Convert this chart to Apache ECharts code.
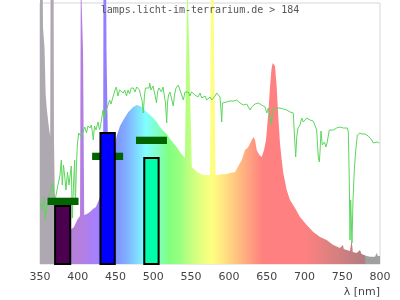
<!DOCTYPE html>
<html>
<head>
<meta charset="utf-8">
<style>html,body{margin:0;padding:0;background:#fff}#c{width:400px;height:300px}</style>
<script src="https://cdn.jsdelivr.net/npm/echarts@6/dist/echarts.min.js"></script>
</head>
<body>
<div id="c"></div>
<script>
// Lamp spectrum (nm, relative intensity)
const lampWavelength = [350,353.5,354,355.5,356,357,357.5,359,360.5,362,363.5,364,368,368.5,369.5,372,380,386,390,392,395,398,400,403,404,406.5,407,408,408.5,412,416,420,424,428,430,433.5,434,437.5,438,440,440.5,445,451.5,455.9,460.3,466.9,473.5,478,482.4,486.3,491.2,495.6,500,504.5,508.8,513.2,517.6,522,526.4,530.9,535.3,541.9,544.5,545,547.5,548,549.9,550.9,553.8,557.4,561.8,566.2,575,576.3,579.8,580.3,581.4,582.3,588.2,597.1,601.5,608.1,612.5,617,621.3,625.7,630.2,632.4,634.6,636.8,640.3,643.4,646.5,649.1,652.2,654.4,656.4,658,661,663.3,665.4,667.6,669.9,672,676.5,680.9,687.5,694.1,703,711.7,720.6,729.4,738.2,747,751,752,755.9,760.3,762.5,764,769.2,773.5,775.5,778,782.4,786.8,793.4,795.6,797.3,800];
const lampIntensity  = [280,280,236,236,216,216,170,155,145,135,128,280,280,125,70,50,40,36,34,35,37,42,45,48,290,290,212,212,49,50,52,55,57,64,68,75,290,290,214,214,90,105,128,138,144,152,157,159,158,156,152,149,146,142,137,133,130,125,121,117,112,106,104,290,290,197,197,97,95,92,90.5,89,89,290,290,215,215,89,89.5,90,91,92,98,104,114,117,124,127,124,114,109,107,114,124,151,177,195,201,198,177,147,121,104,91,74,64,56,47,39,32,27,24,19,16,19,15,14,13,24,12,11,14,10,9,8,7.3,7.3,11,8,8];

// Reference daylight spectrum (nm, relative intensity)
const sunWavelength = [350.9,352.6,354.9,357,359.3,362.8,365,367.2,369.5,371.2,373.8,376.5,378.2,379.5,381.1,382.7,384.4,386.4,388.4,391.4,392.8,394.3,395.9,396.7,398.3,399.4,401.2,402.9,404.7,406.9,409.2,411.5,413.5,416.2,417.9,419.5,420.5,422.1,424.1,426.8,428.8,430.1,431.1,433.4,434.7,436.7,438.7,440,442.2,444,446.6,448.9,451,453.2,455.2,457.6,460.2,462.1,464.5,466.5,468.5,470.8,473.5,475.7,478,479.7,481.7,483,485,486.7,488.3,489.6,491.6,494.3,495.2,496.9,499.6,502.2,504.2,505.5,507.5,508.8,510.8,512.8,515,516.1,517.7,518.7,520.1,522.1,524.3,526.4,528,530,530.9,533,535.3,537.9,539.7,540.6,541.9,543.9,546.3,548.5,550.5,552.9,555.1,557.4,559.1,561.8,564,566.1,568.4,570.6,572.8,575,577.3,579.4,581.6,583.9,586,588.2,589.6,590.5,591.5,593.5,597.1,599.2,601.5,604.1,606.8,610.3,612.5,614.7,617,619.1,621.3,623.6,625.7,627.9,630.2,632.3,634.6,638.9,643.4,647.8,650.1,652.2,654.4,656.4,657.7,659.7,663.3,665.4,667.6,672,676.5,680.9,685.3,686.8,688.4,689.8,691.5,694.1,696.4,698.5,700.7,703,705.1,707.4,711.7,714,716.2,717.3,718.3,719.7,720.6,721.9,723.6,725,726.5,728.5,729.9,731.6,732.9,735.1,738.2,742.7,747.1,751.4,756.7,758.1,759.4,760.3,761.2,762,762.9,764.3,766,767.6,770,773.5,776.2,780.1,784.5,786.8,789,791.1,793.4,796,799.1];
const sunIntensity  = [61,54,67,44,59,71,74,81,61,69,79,89,104,79,99,88,74,92,79,98,46,79,104,59,99,119,131,133,127,132,137,131,138,136,139,131,124,138,134,142,134,138,143,154,146,152,156,158,164,160,167,173,177,168,174,172,171,174,168,174,170,176,176,172,177,179,174,169,164,151,169,176,178,176,181,174,178,169,161,172,176,174,172,177,179,161,141,161,169,172,174,158,169,176,177,179,174,172,164,166,172,174,172,168,172,171,169,169,167,171,166,166,168,164,166,167,164,164,168,171,169,167,154,142,161,162,162,160,163,161,163,164,162,161,162,159,160,160,159,154,157,158,160,161,159,157,151,156,147,139,154,156,156,158,156,155,154,152,151,128,107,127,136,139,146,142,144,146,144,144,143,142,134,119,107,102,112,133,119,117,122,117,121,123,134,135,134,136,137,136,136,132,81,24,64,44,21,64,94,111,129,131,130,130,128,126,124,121,123,122,121];

// Bars: wavelength band and height
const barStart = [370, 430, 488];
const barEnd   = [390, 449, 507];
const barValue = [58, 131, 106];
// Markers: wavelength band and level
const markerStart = [360, 419, 477];
const markerEnd   = [401, 460, 518];
const markerValue = [62.7, 107.7, 123.7];

const xMin = 350, xMax = 800, xStep = 50;

const barColors = ['#4b0050', '#0000ff', '#00ffaa'];

const chart = echarts.init(document.getElementById('c'), null, {renderer: 'canvas'});

const stopsNm = [350,383,386,405,425,440,450,465,480,490,505,520,535,548,565,578,595,612,628,645,700,740,780,781,800];
const stopsCol = ['#aea8b0','#aea8b0','#b480d0','#b47ee0','#a580ff','#8a80ff','#8090ff','#80b0ff','#80e0ff','#80ffff','#80ffc8','#80ff80','#98ff80','#c0ff80','#e8ff80','#ffff80','#ffe080','#ffc080','#ffa080','#ff8080','#ff8080','#d88080','#b07c80','#a0a0a0','#a0a0a0'];
const gradient = new echarts.graphic.LinearGradient(0, 0, 1, 0,
  stopsNm.map((n, i) => ({offset: (n - xMin) / (xMax - xMin), color: stopsCol[i]})));

const lampData = lampWavelength.map((w, i) => [w, lampIntensity[i]]);
const sunData = sunWavelength.map((w, i) => [w, sunIntensity[i]]);
const barData = barStart.map((s, i) => [s, barEnd[i], barValue[i]]);
const markerData = markerStart.map((s, i) => [s, markerEnd[i], markerValue[i]]);

chart.setOption({
  animation: false,
  title: {
    text: 'lamps.licht-im-terrarium.de > 184',
    left: 'center', top: 5, padding: 0,
    textStyle: {fontFamily: 'DejaVu Sans Mono', fontSize: 10, fontWeight: 'normal', color: '#555'}
  },
  graphic: [{
    type: 'text', right: 20, top: 287, z: 10,
    style: {text: 'λ [nm]', font: '11px "DejaVu Sans"', fill: '#444'}
  }],
  grid: {left: 40, right: 20, top: 3, bottom: 36, show: true, borderColor: '#d6d6d6', borderWidth: 1},
  xAxis: {
    type: 'value', min: xMin, max: xMax, interval: xStep,
    axisLine: {show: false}, axisTick: {show: false}, splitLine: {show: false},
    axisLabel: {color: '#444', fontFamily: 'DejaVu Sans', fontSize: 11, margin: 8}
  },
  yAxis: {type: 'value', min: 0, max: 261, show: false, splitLine: {show: false}},
  series: [
    {
      type: 'line', data: lampData, showSymbol: false, clip: false, z: 1,
      lineStyle: {width: 0, opacity: 0},
      areaStyle: {color: gradient, opacity: 1},
      silent: true
    },
    {
      type: 'line', data: sunData, showSymbol: false, z: 2,
      lineStyle: {width: 1, color: '#5cd65c'},
      silent: true
    },
    {
      type: 'custom', z: 3, data: markerData,
      encode: {x: [0, 1], y: 2},
      renderItem: function (params, api) {
        const a = api.coord([api.value(0), api.value(2)]);
        const b = api.coord([api.value(1), api.value(2)]);
        return {type: 'rect', shape: {x: a[0], y: a[1] - 3.6, width: b[0] - a[0], height: 7.3},
                style: {fill: '#006400'}};
      }
    },
    {
      type: 'custom', z: 4, data: barData,
      encode: {x: [0, 1], y: 2},
      renderItem: function (params, api) {
        const a = api.coord([api.value(0), api.value(2)]);
        const b = api.coord([api.value(1), 0]);
        return {type: 'rect', shape: {x: a[0], y: a[1], width: b[0] - a[0], height: b[1] - a[1]},
                style: {fill: barColors[params.dataIndex], stroke: '#000', lineWidth: 2}};
      }
    }
  ]
});
</script>
</body>
</html>
